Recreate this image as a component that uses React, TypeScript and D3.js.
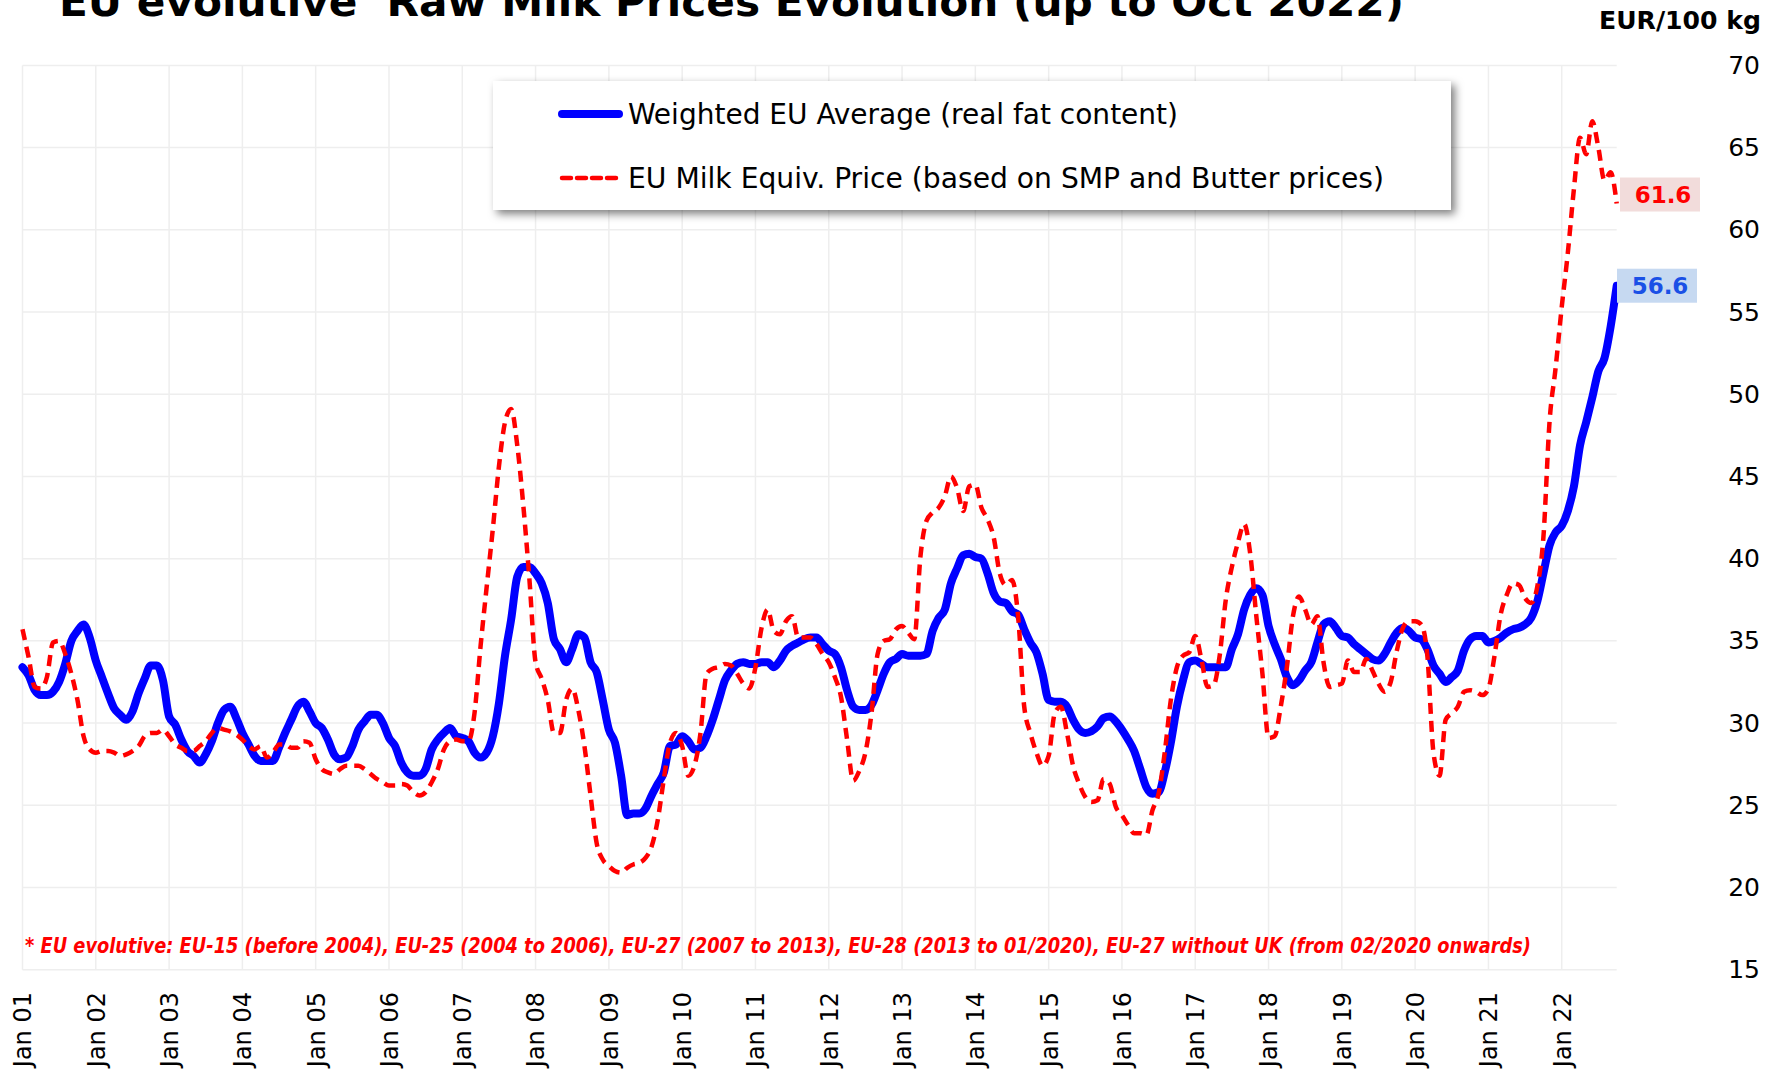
import React, { useRef, useEffect } from 'react'
import * as d3 from 'd3'

// monthly values, Jan 2001 .. Oct 2022 (EUR/100 kg)
const weightedAverage = [
  33.4, 32.9, 32.0, 31.7, 31.7, 31.9, 32.5, 33.6, 35.0, 35.6, 36.0, 35.2,
  33.8, 32.8, 31.8, 30.9, 30.5, 30.2, 30.7, 31.8, 32.7, 33.5, 33.5, 32.6,
  30.4, 29.9, 29.0, 28.3, 28.0, 27.6, 28.1, 28.9, 30.0, 30.8, 31.0, 30.3,
  29.4, 28.7, 28.0, 27.7, 27.7, 27.7, 28.5, 29.4, 30.2, 31.0, 31.3, 30.7,
  30.0, 29.7, 29.0, 28.1, 27.8, 27.9, 28.6, 29.6, 30.1, 30.5, 30.5, 30.0,
  29.1, 28.6, 27.6, 27.0, 26.8, 26.8, 27.2, 28.4, 29.0, 29.4, 29.7, 29.2,
  29.1, 28.9, 28.2, 27.9, 28.2, 29.2, 31.2, 34.1, 36.3, 38.9, 39.5, 39.5,
  39.1, 38.5, 37.3, 35.1, 34.5, 33.7, 34.5, 35.4, 35.2, 33.7, 33.1, 31.4,
  29.6, 28.8, 26.8, 24.4, 24.5, 24.5, 24.8, 25.6, 26.3, 27.0, 28.6, 28.7,
  29.2, 28.9, 28.4, 28.5, 29.2, 30.2, 31.4, 32.6, 33.2, 33.6, 33.7, 33.6,
  33.6, 33.7, 33.7, 33.4, 33.8, 34.4, 34.7, 34.9, 35.1, 35.2, 35.2, 34.8,
  34.4, 34.2, 33.4, 32.0, 31.0, 30.8, 30.8, 31.1, 32.0, 33.0, 33.7, 33.9,
  34.2, 34.1, 34.1, 34.1, 34.2, 35.6, 36.4, 36.9, 38.5, 39.4, 40.2, 40.3,
  40.1, 40.0, 39.1, 37.9, 37.4, 37.3, 36.8, 36.6, 35.7, 34.9, 34.3, 33.0,
  31.4, 31.3, 31.3, 31.0, 30.2, 29.6, 29.4, 29.5, 29.8, 30.3, 30.4, 30.1,
  29.6, 29.0, 28.3, 27.2, 26.1, 25.7, 25.8, 27.0, 28.8, 31.0, 32.6, 33.7,
  33.8, 33.6, 33.4, 33.4, 33.4, 33.4, 34.5, 35.4, 36.9, 37.8, 38.2, 37.8,
  35.9, 34.8, 33.9, 32.8, 32.3, 32.6, 33.2, 33.7, 34.9, 36.0, 36.2, 35.8,
  35.3, 35.2, 34.8, 34.5, 34.2, 33.9, 33.8, 34.2, 34.9, 35.5, 35.8, 35.6,
  35.2, 35.1, 34.5, 33.5, 33.0, 32.5, 32.8, 33.2, 34.4, 35.1, 35.3, 35.3,
  34.9, 35.0, 35.2, 35.5, 35.7, 35.8, 36.0, 36.4, 37.4, 39.1, 40.8, 41.6,
  42.0, 42.9, 44.4, 46.9, 48.3, 49.8, 51.4, 52.2, 54.1, 56.6
]

const milkEquivalent = [
  35.7, 34.0, 32.2, 32.1, 32.8, 34.9, 35.0, 34.2, 33.0, 31.4, 29.2, 28.4,
  28.2, 28.3, 28.3, 28.2, 28.0, 28.1, 28.3, 28.6, 29.2, 29.4, 29.4, 29.6,
  29.2, 28.7, 28.5, 28.3, 28.3, 28.6, 28.9, 29.4, 29.7, 29.6, 29.5, 29.3,
  29.0, 28.6, 28.4, 28.6, 27.9, 28.2, 28.7, 28.7, 28.5, 28.5, 28.9, 28.8,
  27.8, 27.2, 27.0, 26.9, 27.2, 27.4, 27.4, 27.4, 27.2, 26.9, 26.6, 26.4,
  26.2, 26.2, 26.3, 26.2, 25.8, 25.6, 25.8, 26.4, 27.2, 28.4, 28.9, 29.0,
  28.9, 28.9, 30.6, 34.7, 38.3, 41.8, 45.6, 48.3, 49.1, 46.9, 43.2, 38.7,
  33.7, 32.7, 31.4, 29.4, 29.4, 31.4, 32.1, 30.8, 28.6, 25.6, 22.7, 21.7,
  21.3, 21.0, 20.9, 21.2, 21.4, 21.5, 21.8, 22.5, 24.1, 26.6, 28.8, 29.4,
  28.6, 26.8, 27.4, 29.4, 33.0, 33.3, 33.4, 33.6, 33.5, 33.0, 32.4, 32.1,
  33.4, 35.8, 36.9, 35.6, 35.4, 36.2, 36.5, 35.2, 35.2, 35.2, 34.8, 34.2,
  33.7, 32.8, 31.6, 29.0, 26.5, 27.1, 28.2, 30.6, 34.2, 35.0, 35.1, 35.7,
  35.9, 35.5, 35.1, 40.1, 42.3, 42.8, 43.1, 43.8, 45.0, 44.3, 42.9, 44.4,
  44.5, 43.1, 42.4, 41.3, 39.1, 38.4, 38.7, 36.5, 31.0, 29.4, 28.2, 27.4,
  28.0, 30.6, 31.0, 29.4, 27.4, 26.3, 25.5, 25.2, 25.3, 26.6, 26.3, 24.9,
  24.4, 23.8, 23.3, 23.3, 23.2, 24.7, 25.7, 28.2, 31.4, 33.4, 34.1, 34.3,
  35.3, 33.9, 32.2, 32.3, 34.1, 37.5, 39.5, 41.0, 42.1, 40.3, 36.5, 33.0,
  29.1, 29.2, 31.0, 33.4, 36.5, 37.7, 36.9, 36.0, 36.5, 33.7, 32.2, 32.3,
  32.4, 33.8, 33.1, 33.1, 33.9, 33.2, 32.4, 31.9, 32.5, 34.4, 35.8, 36.2,
  36.2, 36.0, 34.1, 28.2, 26.8, 30.2, 30.6, 31.0, 31.9, 32.0, 31.9, 31.7,
  32.1, 34.1, 36.6, 37.8, 38.5, 38.4, 37.6, 37.3, 38.3, 41.3, 48.3, 51.6,
  55.3, 58.6, 62.5, 65.6, 64.6, 66.6, 65.0, 63.0, 63.5, 61.6
]

const yearLabels = ['01', '02', '03', '04', '05', '06', '07', '08', '09', '10', '11',
  '12', '13', '14', '15', '16', '17', '18', '19', '20', '21', '22']
const yTicks = [15, 20, 25, 30, 35, 40, 45, 50, 55, 60, 65, 70]
const legendItems = ['Weighted EU Average (real fat content)', 'EU Milk Equiv. Price (based on SMP and Butter prices)']
const legendWidths = [550, 756]

const W = 1768
const H = 1070
const narrow = '"DejaVu Sans Condensed", "Liberation Sans Narrow", "DejaVu Sans", sans-serif'

const MilkChart = () => {
  const ref = useRef<SVGSVGElement>(null)

  useEffect(() => {
    const svg = d3.select(ref.current)
    svg.selectAll('*').remove()

    const x = d3.scaleLinear().domain([0, 261]).range([22.5, 1616.7])
    const y = d3.scaleLinear().domain([15, 70]).range([969.7, 65.4])
    const janIdx = yearLabels.map((_, i) => i * 12)

    const defs = svg.append('defs')
    defs.append('filter').attr('id', 'shadow')
      .attr('x', '-5%').attr('y', '-20%').attr('width', '115%').attr('height', '150%')
      .append('feDropShadow')
      .attr('dx', 4).attr('dy', 4).attr('stdDeviation', 4)
      .attr('flood-color', '#000').attr('flood-opacity', 0.5)

    // grid
    svg.append('g').selectAll('line').data(yTicks).join('line')
      .attr('x1', x(0)).attr('x2', x(261))
      .attr('y1', d => y(d)).attr('y2', d => y(d))
      .attr('stroke', '#eeeeee').attr('stroke-width', 1.5)
    svg.append('g').selectAll('line').data(janIdx).join('line')
      .attr('x1', d => x(d)).attr('x2', d => x(d))
      .attr('y1', y(70)).attr('y2', y(15))
      .attr('stroke', '#eeeeee').attr('stroke-width', 1.5)

    // y axis on the right
    const yAxis = svg.append('g')
      .attr('transform', 'translate(1760,0)')
      .call(d3.axisRight(y).tickValues(yTicks).tickSize(0))
    yAxis.select('.domain').remove()
    yAxis.selectAll('text')
      .attr('x', 0).attr('text-anchor', 'end')
      .attr('font-family', '"DejaVu Sans", sans-serif')
      .attr('font-size', 25).attr('fill', '#000')

    // x axis labels
    const xAxis = svg.append('g')
      .attr('transform', 'translate(0,992)')
      .call(d3.axisBottom(x).tickValues(janIdx).tickSize(0)
        .tickFormat((d, i) => 'Jan ' + yearLabels[i]))
    xAxis.select('.domain').remove()
    xAxis.selectAll('text')
      .attr('y', 0).attr('dy', '0.35em')
      .attr('transform', 'rotate(-90)')
      .attr('text-anchor', 'end')
      .attr('font-family', '"DejaVu Sans", sans-serif')
      .attr('font-size', 24).attr('fill', '#000')

    const line = d3.line<number>()
      .x((d, i) => x(i))
      .y(d => y(d))
      .curve(d3.curveMonotoneX)

    svg.append('path')
      .datum(weightedAverage)
      .attr('d', line)
      .attr('fill', 'none')
      .attr('stroke', '#0000ff')
      .attr('stroke-width', 8)
      .attr('stroke-linejoin', 'round')
      .attr('stroke-linecap', 'round')

    svg.append('path')
      .datum(milkEquivalent)
      .attr('d', line)
      .attr('fill', 'none')
      .attr('stroke', '#ff0000')
      .attr('stroke-width', 4.5)
      .attr('stroke-dasharray', '11,7')
      .attr('stroke-linejoin', 'round')

    // end value labels
    const lastBlue = weightedAverage[weightedAverage.length - 1]
    const lastRed = milkEquivalent[milkEquivalent.length - 1]
    const endLabels = [
      { v: lastRed, cy: y(lastRed) - 9, bg: '#f2dcdb', fg: '#ff0000', x0: 1620 },
      { v: lastBlue, cy: y(lastBlue), bg: '#c6d9f1', fg: '#1a50e6', x0: 1617 }
    ]
    const lab = svg.append('g').selectAll('g').data(endLabels).join('g')
    lab.append('rect')
      .attr('x', d => d.x0).attr('y', d => d.cy - 17)
      .attr('width', 80).attr('height', 34)
      .attr('fill', d => d.bg)
    lab.append('text')
      .attr('x', d => d.x0 + 43).attr('y', d => d.cy)
      .attr('dy', '0.36em')
      .attr('text-anchor', 'middle')
      .attr('font-family', '"DejaVu Sans", sans-serif')
      .attr('font-weight', 'bold').attr('font-size', 23)
      .attr('fill', d => d.fg)
      .text(d => d.v.toFixed(1))

    // legend
    const legend = svg.append('g')
    legend.append('rect')
      .attr('x', 493).attr('y', 81).attr('width', 958).attr('height', 129)
      .attr('fill', '#fff').attr('filter', 'url(#shadow)')
    const items = legend.selectAll('g').data(legendItems).join('g')
      .attr('transform', (d, i) => `translate(0,${114 + i * 64})`)
    items.append('line')
      .attr('x1', 562).attr('x2', 619).attr('y1', 0).attr('y2', 0)
      .attr('stroke', (d, i) => i === 0 ? '#0000ff' : '#ff0000')
      .attr('stroke-width', (d, i) => i === 0 ? 8 : 4.5)
      .attr('stroke-linecap', 'round')
      .attr('stroke-dasharray', (d, i) => i === 0 ? null : '9,6')
    items.append('text')
      .attr('x', 628).attr('y', 0).attr('dy', '0.36em')
      .attr('textLength', (d, i) => legendWidths[i])
      .attr('lengthAdjust', 'spacingAndGlyphs')
      .attr('font-family', narrow).attr('font-size', 29)
      .attr('fill', '#000')
      .text(d => d)

    // title, unit, footnote
    const title = svg.append('text')
      .attr('x', 59).attr('y', 16)
      .attr('textLength', 1345).attr('lengthAdjust', 'spacingAndGlyphs')
      .attr('font-family', '"DejaVu Sans", sans-serif')
      .attr('font-weight', 'bold').attr('font-size', 40)
    title.append('tspan').text('EU evolutive')
    title.append('tspan').attr('baseline-shift', 'super').attr('font-size', 26).text('*')
    title.append('tspan').text(' Raw Milk Prices Evolution (up to Oct 2022)')

    svg.append('text')
      .attr('x', 1761).attr('y', 29).attr('text-anchor', 'end')
      .attr('textLength', 162).attr('lengthAdjust', 'spacingAndGlyphs')
      .attr('font-family', '"DejaVu Sans", sans-serif')
      .attr('font-weight', 'bold').attr('font-size', 24)
      .text('EUR/100 kg')

    svg.append('text')
      .attr('x', 25).attr('y', 953)
      .attr('textLength', 1506).attr('lengthAdjust', 'spacingAndGlyphs')
      .attr('font-family', '"Liberation Sans Narrow", "DejaVu Sans Condensed", sans-serif')
      .attr('font-style', 'italic').attr('font-weight', 'bold')
      .attr('font-size', 21).attr('fill', '#ff0000')
      .text('* EU evolutive: EU-15 (before 2004), EU-25 (2004 to 2006), EU-27 (2007 to 2013), EU-28 (2013 to 01/2020), EU-27 without UK (from 02/2020 onwards)')
  }, [])

  return (
    <svg ref={ref} width={W} height={H}
      style={{ position: 'absolute', left: 0, top: 0, display: 'block', background: '#fff' }} />
  )
}

export default function App() {
  return <MilkChart />
}
